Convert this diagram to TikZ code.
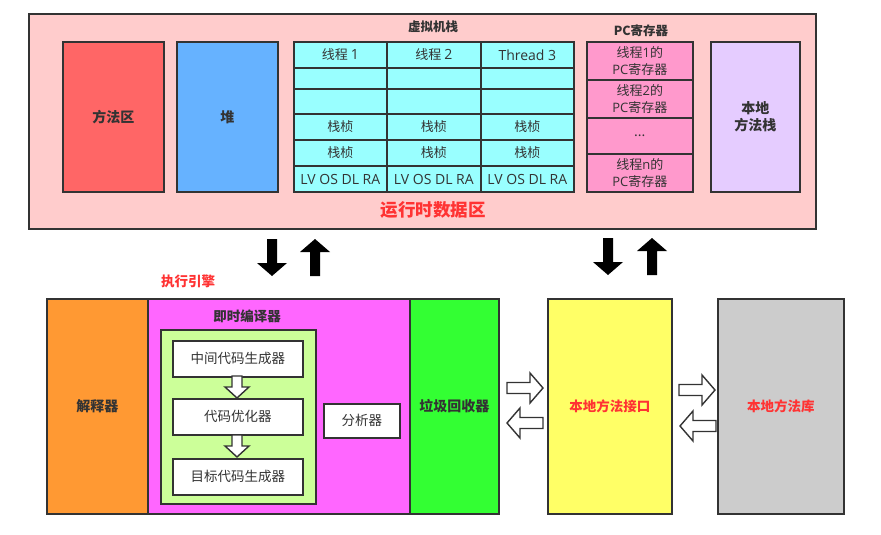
\documentclass[tikz,border=0pt]{standalone}
\usepackage{fontspec}
\setmainfont{Noto Sans CJK SC}
\newfontfamily\lat{Open Sans}
\definecolor{bd}{HTML}{333333}
\definecolor{tx}{HTML}{333333}
\definecolor{rd}{HTML}{FF3333}
\definecolor{cpink}{HTML}{FFCCCC}
\definecolor{cred}{HTML}{FF6666}
\definecolor{cblue}{HTML}{66B2FF}
\definecolor{ccyan}{HTML}{99FFFF}
\definecolor{cpc}{HTML}{FF99CC}
\definecolor{cpurp}{HTML}{E5CCFF}
\definecolor{corange}{HTML}{FF9933}
\definecolor{cmag}{HTML}{FF66FF}
\definecolor{clgreen}{HTML}{CCFF99}
\definecolor{cgreen}{HTML}{33FF33}
\definecolor{cyellow}{HTML}{FFFF66}
\definecolor{cgray}{HTML}{CCCCCC}
\begin{document}
\begin{tikzpicture}[x=1pt,y=-1pt,
  box/.style={draw=bd, line width=1.7pt, inner sep=0pt, anchor=north west, text=tx, align=center, font=\fontsize{13.5}{15}\selectfont},
  bbox/.style={box, font=\fontsize{14}{16.5}\selectfont\bfseries},
  ttl/.style={text=tx, font=\fontsize{12.5}{14}\selectfont\bfseries},
  cell/.style={text=tx, font=\fontsize{13}{15}\selectfont},
  pics/blackarrow/.style={code={\fill[black] (-5,0) -- (5,0) -- (5,24) -- (15,24) -- (0,37) -- (-15,24) -- (-5,24) -- cycle;}},
  pics/hollowh/.style={code={\draw[bd, line width=1.4pt, fill=white, line join=miter] (0,-5.5) -- (23,-5.5) -- (23,-15) -- (36,0) -- (23,15) -- (23,5.5) -- (0,5.5) -- cycle;}},
  pics/hollowv/.style={code={\draw[bd, line width=1.4pt, fill=white] (-5,0) -- (5,0) -- (5,11) -- (12,11) -- (0,22) -- (-12,11) -- (-5,11) -- cycle;}}
]
\useasboundingbox (0,0) rectangle (881,535);
\fill[white] (0,0) rectangle (881,535);

% runtime data area
\node[box, fill=cpink, minimum width=787pt, minimum height=215pt] (rda) at (28,13) {};
\node[bbox, fill=cred, minimum width=101pt, minimum height=150pt] (ma) at (62,41) {方法区};
\node[bbox, fill=cblue, minimum width=101pt, minimum height=150pt] (heap) at (176,41) {堆};
\node[ttl] (vmt) at (433,27) {虚拟机栈};

% stack table
\foreach \c/\x/\w in {1/293/93, 2/386/94, 3/480/93}{
  \foreach \r/\y/\h in {1/41/26, 2/67/21, 3/88/25, 4/113/26, 5/139/26, 6/165/26}{
    \node[box, fill=ccyan, minimum width=\w pt, minimum height=\h pt] (s\c\r) at (\x,\y) {};
  }
}
\node[cell] at (s11) {线程 {\lat\fontsize{14}{15}\selectfont 1}};
\node[cell] at (s21) {线程 {\lat\fontsize{14}{15}\selectfont 2}};
\node[cell, font=\lat\fontsize{14}{15}\selectfont] at (s31) {Thread 3};
\foreach \c in {1,2,3}{
  \node[cell] at (s\c4) {栈桢};
  \node[cell] at (s\c5) {栈桢};
  \node[cell, font=\lat\fontsize{14}{15}\selectfont] at ([yshift=-0.5pt]s\c6.center) {LV OS DL RA};
}

% PC registers
\node[ttl] (pct) at (641,31) {PC寄存器};
\node[box, fill=cpc, minimum width=106pt, minimum height=38pt, font=\fontsize{13}{16.5}\selectfont] (pc1) at (586,41) {线程{\lat 1}的\\{\lat PC}寄存器};
\node[box, fill=cpc, minimum width=106pt, minimum height=38pt, font=\fontsize{13}{16.5}\selectfont] (pc2) at (586,79) {线程{\lat 2}的\\{\lat PC}寄存器};
\node[box, fill=cpc, minimum width=106pt, minimum height=36pt] (pc3) at (586,117) {...};
\node[box, fill=cpc, minimum width=106pt, minimum height=38pt, font=\fontsize{13}{16.5}\selectfont] (pc4) at (586,153) {线程{\lat n}的\\{\lat PC}寄存器};

\node[bbox, fill=cpurp, minimum width=89pt, minimum height=150pt] (nms) at (710,41) {本地\\方法栈};
\node[text=rd, font=\fontsize{17.5}{20}\selectfont\bfseries] (rdat) at (433,210) {运行时数据区};

% big black arrows
\pic at (272,239) {blackarrow};
\pic[rotate=180] at (315,276) {blackarrow};
\pic at (608,238) {blackarrow};
\pic[rotate=180] at (652,275) {blackarrow};

% execution engine
\node[text=rd, font=\fontsize{13.5}{15}\selectfont\bfseries] (eet) at (188,281) {执行引擎};
\node[bbox, fill=corange, minimum width=101pt, minimum height=215pt] (interp) at (46,298) {解释器};
\node[box, fill=cmag, minimum width=262pt, minimum height=215pt] (jit) at (147,298) {};
\node[bbox, fill=cgreen, minimum width=89pt, minimum height=215pt] (gc) at (409,298) {垃圾回收器};
\node[ttl, font=\fontsize{13.5}{15}\selectfont\bfseries] (jitt) at (247,316) {即时编译器};
\node[box, fill=clgreen, minimum width=155pt, minimum height=174pt] (jin) at (160,329) {};
\node[box, fill=white, minimum width=130pt, minimum height=36pt] (w1) at (172,340) {中间代码生成器};
\node[box, fill=white, minimum width=130pt, minimum height=36pt] (w2) at (172,398) {代码优化器};
\node[box, fill=white, minimum width=130pt, minimum height=36pt] (w3) at (172,458) {目标代码生成器};
\pic at (237,376) {hollowv};
\pic at (237,435) {hollowv};
\node[box, fill=white, minimum width=76pt, minimum height=34pt] (ana) at (323,403) {分析器};

% native interface and library
\node[box, fill=cyellow, minimum width=124pt, minimum height=215pt, text=rd, font=\fontsize{13.5}{15}\selectfont\bfseries] (jni) at (547,298) {本地方法接口};
\node[box, fill=cgray, minimum width=126pt, minimum height=215pt, text=rd, font=\fontsize{13.5}{15}\selectfont\bfseries] (lib) at (717,298) {本地方法库};
\pic at (507,388) {hollowh};
\pic[rotate=180] at (543,423) {hollowh};
\pic at (679,390) {hollowh};
\pic[rotate=180] at (716,426) {hollowh};
\end{tikzpicture}
\end{document}
